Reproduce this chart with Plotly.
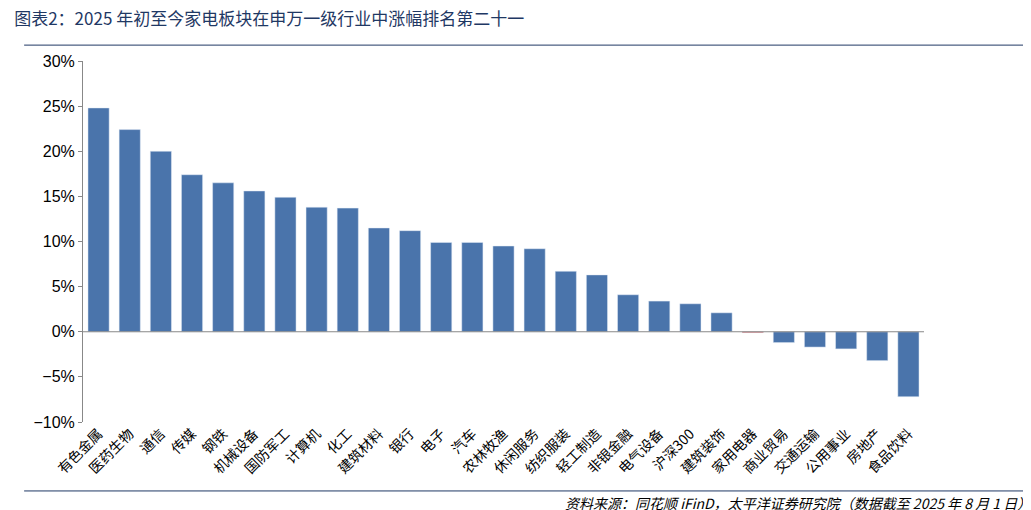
import plotly.graph_objects as go

industries = ["有色金属", "医药生物", "通信", "传媒", "钢铁", "机械设备", "国防军工", "计算机", "化工",
              "建筑材料", "银行", "电子", "汽车", "农林牧渔", "休闲服务", "纺织服装", "轻工制造",
              "非银金融", "电气设备", "沪深300", "建筑装饰", "家用电器", "商业贸易", "交通运输",
              "公用事业", "房地产", "食品饮料"]
ytd_change = [24.8, 22.4, 20.0, 17.4, 16.5, 15.6, 14.9, 13.8, 13.7, 11.5, 11.2, 9.9, 9.9, 9.5, 9.2,
              6.7, 6.3, 4.1, 3.4, 3.1, 2.1, -0.1, -1.2, -1.7, -1.9, -3.2, -7.2]
highlight = "家用电器"

colors = ["#c00000" if n == highlight else "#4a74ab" for n in industries]

fig = go.Figure(go.Bar(x=industries, y=ytd_change, marker_color=colors, width=0.68))

fig.update_layout(
    width=1031, height=510,
    plot_bgcolor="white", paper_bgcolor="white",
    margin=dict(l=75, r=115, t=53, b=96),
    font=dict(family="Noto Sans CJK SC", size=14, color="black"),
    showlegend=False,
    title=dict(text="图表2：2025 年初至今家电板块在申万一级行业中涨幅排名第二十一",
               x=0.006, y=0.99, xanchor="left", yanchor="top",
               font=dict(size=17, color="#1f3864")),
    annotations=[dict(text="<i>资料来源：同花顺 iFinD，太平洋证券研究院（数据截至 2025 年 8 月 1 日）</i>",
                      xref="paper", yref="paper", x=1.13, y=-0.224, xanchor="right", yanchor="middle",
                      showarrow=False, font=dict(size=14, color="black"))],
    shapes=[dict(type="line", xref="paper", yref="paper", x0=-0.07, x1=1.13, y0=1.044, y1=1.044,
                 line=dict(color="#1f3864", width=1)),
            dict(type="line", xref="paper", yref="paper", x0=-0.07, x1=1.13, y0=-0.191, y1=-0.191,
                 line=dict(color="#1f3864", width=1))],
)
fig.update_yaxes(range=[-10, 30], dtick=5, ticksuffix="%", showgrid=False, showline=True,
                 linecolor="#888", ticks="outside", ticklen=4, tickcolor="#888", zeroline=False,
                 tickfont=dict(family="Liberation Sans", size=16))
fig.update_xaxes(tickangle=-45, showline=False, ticks="", tickfont=dict(size=14))
fig.add_hline(y=0, line=dict(color="#888", width=1))

fig.write_html("out.html")
